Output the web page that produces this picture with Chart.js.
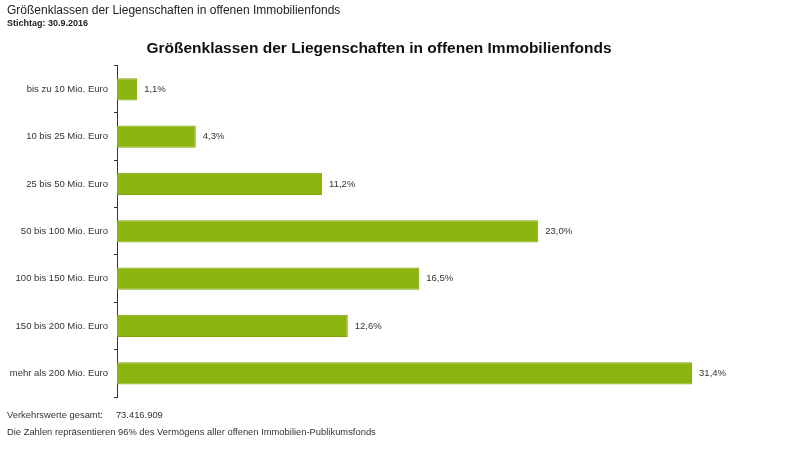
<!DOCTYPE html>
<html>
<head>
<meta charset="utf-8">
<script src="https://cdn.jsdelivr.net/npm/chart.js@4"></script>
<style>
  body { margin: 0; background: #fff; font-family: Arial, "Liberation Sans", sans-serif; }
  #wrap { position: relative; width: 800px; height: 450px; }
  #chart { position: absolute; left: 0; top: 0; }
  .txt { position: absolute; left: 7px; color: #333; white-space: nowrap; }
</style>
</head>
<body>
<div id="wrap">
  <canvas id="chart" width="800" height="450"></canvas>
  <div class="txt" style="top:3px;font-size:12px;color:#222;">Größenklassen der Liegenschaften in offenen Immobilienfonds</div>
  <div class="txt" style="top:18px;font-size:9px;font-weight:bold;color:#222;">Stichtag: 30.9.2016</div>
  <div class="txt" style="top:409px;font-size:9.4px;">Verkehrswerte gesamt:&nbsp;&nbsp;&nbsp;&nbsp;&nbsp;73.416.909</div>
  <div class="txt" style="top:426px;font-size:9.4px;">Die Zahlen repräsentieren 96% des Vermögens aller offenen Immobilien-Publikumsfonds</div>
</div>
<script>
// categories and shares (percent)
var sizeClasses = ['bis zu 10 Mio. Euro', '10 bis 25 Mio. Euro', '25 bis 50 Mio. Euro',
    '50 bis 100 Mio. Euro', '100 bis 150 Mio. Euro', '150 bis 200 Mio. Euro', 'mehr als 200 Mio. Euro'];
var shares = [1.1, 4.3, 11.2, 23.0, 16.5, 12.6, 31.4];
var chartTitle = 'Größenklassen der Liegenschaften in offenen Immobilienfonds';

// draws "23,0%" next to each bar end
var valueLabels = {
    id: 'valueLabels',
    afterDatasetsDraw: function (chart) {
        var ctx = chart.ctx;
        var meta = chart.getDatasetMeta(0);
        ctx.save();
        ctx.font = '9.5px Arial, "Liberation Sans", sans-serif';
        ctx.fillStyle = '#333';
        ctx.textBaseline = 'middle';
        meta.data.forEach(function (bar, i) {
            ctx.fillText(shares[i].toFixed(1).replace('.', ',') + '%', bar.x + 7, bar.y);
        });
        ctx.restore();
    }
};

var ctx = document.getElementById('chart').getContext('2d');
var chartSizes = new Chart(ctx, {
    type: 'bar',
    data: {
        labels: sizeClasses,
        datasets: [{
            data: shares,
            backgroundColor: '#8cb50f',
            borderColor: '#7ea60a',
            borderWidth: 1,
            categoryPercentage: 1,
            barPercentage: 0.47
        }]
    },
    options: {
        indexAxis: 'y',
        responsive: false,
        animation: false,
        layout: { padding: { left: 0, right: 42, top: 39, bottom: 53 } },
        plugins: {
            legend: { display: false },
            tooltip: { enabled: false },
            title: {
                display: true,
                text: chartTitle,
                color: '#111',
                font: { family: 'Arial, "Liberation Sans", sans-serif', size: 15.5, weight: 'bold' },
                padding: { top: 0, bottom: 8 }
            }
        },
        scales: {
            x: { display: false, min: 0, max: 35 },
            y: {
                afterFit: function (scale) { scale.width = 117; },
                border: { display: true, color: '#333', width: 1 },
                grid: { drawOnChartArea: false, drawTicks: true, tickLength: 3, color: '#333', offset: true },
                ticks: {
                    color: '#333',
                    padding: 6,
                    font: { family: 'Arial, "Liberation Sans", sans-serif', size: 9.5 }
                }
            }
        }
    },
    plugins: [valueLabels]
});
</script>
</body>
</html>
